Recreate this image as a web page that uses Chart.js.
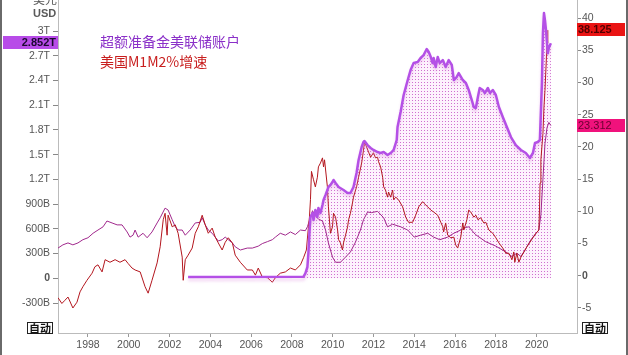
<!DOCTYPE html>
<html><head><meta charset="utf-8">
<script src="https://cdn.jsdelivr.net/npm/chart.js@4/dist/chart.umd.min.js"></script>
<style>html,body{margin:0;padding:0;background:#fff;overflow:hidden}#wrap{position:relative;width:628px;height:355px}</style>
</head><body><div id="wrap"><canvas id="c" width="628" height="355"></canvas></div>
<script>
// ---------- DATA ----------
const seriesNames = ['超额准备金美联储账户', '美国M1M2%增速'];
const xTicks = [1998, 2000, 2002, 2004, 2006, 2008, 2010, 2012, 2014, 2016, 2018, 2020];
const leftTicks = [-300, 0, 300, 600, 900, 1200, 1500, 1800, 2100, 2400, 2700, 3000]; // billions USD
const rightTicks = [-5, 0, 5, 10, 15, 20, 25, 30, 35, 40]; // %

// Excess reserves held at the Fed (billions USD)
const reservesYears = [2002.91,2008.57,2008.66,2008.76,2008.81,2008.86,2008.91,2009.01,2009.06,2009.15,2009.25,2009.30,2009.40,2009.50,2009.55,2009.65,2009.74,2009.79,2009.89,2009.99,2010.04,2010.14,2010.29,2010.53,2010.73,2010.87,2011.02,2011.17,2011.27,2011.42,2011.51,2011.56,2011.71,2011.86,2012.00,2012.20,2012.35,2012.50,2012.69,2012.84,2012.99,2013.14,2013.18,2013.33,2013.48,2013.68,2013.82,2013.97,2014.17,2014.31,2014.46,2014.61,2014.71,2014.81,2014.90,2014.95,2015.05,2015.15,2015.25,2015.40,2015.54,2015.69,2015.84,2015.94,2016.08,2016.18,2016.38,2016.53,2016.67,2016.82,2016.92,2017.02,2017.12,2017.21,2017.36,2017.46,2017.61,2017.71,2017.85,2018.00,2018.15,2018.34,2018.54,2018.74,2018.98,2019.23,2019.47,2019.67,2019.82,2019.92,2020.06,2020.16,2020.26,2020.31,2020.36,2020.41,2020.46,2020.55,2020.60,2020.70];
const reservesValues = [15,20,60,137,307,550,744,792,707,829,744,853,792,889,950,1011,1071,1108,1132,1168,1193,1156,1108,1071,1035,1035,1108,1278,1436,1593,1654,1666,1617,1581,1557,1532,1520,1532,1496,1520,1557,1678,1836,2018,2224,2406,2527,2612,2624,2673,2709,2782,2746,2685,2612,2673,2564,2685,2612,2648,2564,2648,2588,2406,2442,2491,2406,2370,2285,2163,2078,2066,2200,2309,2285,2248,2309,2248,2285,2224,2078,1957,1836,1714,1617,1557,1520,1460,1520,1642,1654,1678,2370,2976,3219,3130,3008,2730,2797,2852];

// US M1 growth, % y/y
const m1Years = [1996.53,1996.72,1996.87,1997.02,1997.26,1997.46,1997.61,1997.75,1997.95,1998.20,1998.34,1998.49,1998.69,1998.84,1999.08,1999.33,1999.57,1999.82,1999.97,2000.16,2000.31,2000.56,2000.80,2000.95,2001.14,2001.39,2001.54,2001.69,2001.78,2001.88,2001.93,2002.13,2002.28,2002.42,2002.62,2002.67,2002.77,2002.91,2003.11,2003.26,2003.41,2003.60,2003.75,2003.90,2004.09,2004.24,2004.39,2004.58,2004.73,2004.88,2005.08,2005.22,2005.47,2005.81,2006.06,2006.21,2006.35,2006.55,2006.80,2007.04,2007.19,2007.43,2007.68,2007.93,2008.17,2008.42,2008.57,2008.71,2008.81,2008.86,2008.91,2008.96,2009.06,2009.15,2009.25,2009.30,2009.40,2009.50,2009.55,2009.60,2009.74,2009.79,2009.89,2009.99,2010.04,2010.14,2010.24,2010.29,2010.38,2010.48,2010.53,2010.63,2010.73,2010.78,2010.87,2010.97,2011.02,2011.17,2011.27,2011.42,2011.51,2011.56,2011.66,2011.76,2011.86,2012.00,2012.10,2012.20,2012.25,2012.35,2012.45,2012.50,2012.59,2012.69,2012.74,2012.84,2012.94,2012.99,2013.09,2013.23,2013.43,2013.58,2013.72,2013.92,2014.07,2014.22,2014.41,2014.46,2014.66,2014.81,2014.95,2015.15,2015.30,2015.40,2015.44,2015.54,2015.64,2015.79,2015.94,2016.03,2016.13,2016.28,2016.38,2016.43,2016.58,2016.67,2016.77,2016.92,2017.02,2017.12,2017.26,2017.41,2017.51,2017.66,2017.85,2018.00,2018.15,2018.34,2018.49,2018.64,2018.79,2018.88,2018.93,2019.03,2019.13,2019.23,2019.38,2019.52,2019.67,2019.82,2019.97,2020.11,2020.14,2020.17,2020.21,2020.31,2020.36,2020.41,2020.46,2020.51,2020.55];
const m1Values = [-3.4,-4.3,-3.8,-3.3,-5.0,-4.1,-2.5,-1.7,-0.7,0.4,1.4,1.7,0.6,2.5,2.1,2.5,2.1,2.5,1.9,1.2,0.9,0.6,-1.7,-2.7,-0.7,2.0,4.5,8.7,9.7,6.3,9.4,7.6,7.9,6.6,2.9,-0.7,2.5,3.2,4.3,6.6,7.6,9.4,7.9,6.6,7.4,6.0,5.1,4.0,5.2,5.9,5.1,3.2,2.1,0.9,0.9,0.1,1.2,-0.2,-0.3,-1.0,-0.3,0.4,0.6,1.2,0.9,1.7,2.8,4.0,7.6,9.1,11.8,16.2,14.9,13.8,15.3,16.9,17.5,18.3,16.9,18.0,13.8,10.7,6.6,7.6,9.7,9.1,7.1,5.6,5.1,4.0,5.1,6.3,7.6,8.7,9.7,11.3,12.2,13.8,15.3,17.5,19.5,20.8,20.0,19.2,18.4,19.1,18.3,18.4,17.7,16.9,15.3,13.8,13.3,12.2,13.0,12.2,13.3,11.8,12.2,11.8,10.7,9.1,8.3,8.3,9.4,10.7,11.5,11.3,10.7,10.2,9.9,9.4,8.3,7.6,6.8,8.2,6.3,5.9,6.0,4.8,4.3,6.0,8.2,7.1,8.7,10.2,9.9,9.1,9.4,8.7,9.0,8.2,8.3,7.1,6.6,5.9,5.1,4.3,3.5,3.5,2.5,3.7,2.1,3.5,2.1,2.9,3.7,4.5,5.2,5.9,6.6,7.1,10.2,14.4,18.0,22.1,26.2,28.8,32.4,36.1,38.125];

// US M2 growth, % y/y
const m2Years = [1996.53,1996.77,1997.02,1997.26,1997.51,1997.75,1998.00,1998.25,1998.49,1998.74,1998.93,1999.18,1999.43,1999.67,1999.92,2000.06,2000.21,2000.31,2000.46,2000.70,2000.90,2001.14,2001.39,2001.54,2001.78,2001.93,2002.13,2002.28,2002.42,2002.62,2002.77,2003.01,2003.26,2003.50,2003.60,2003.75,2003.90,2004.09,2004.24,2004.39,2004.58,2004.73,2004.88,2005.08,2005.22,2005.47,2005.81,2006.06,2006.35,2006.55,2006.80,2007.04,2007.19,2007.43,2007.68,2007.93,2008.17,2008.42,2008.66,2008.76,2008.91,2009.01,2009.15,2009.30,2009.50,2009.65,2009.79,2009.99,2010.14,2010.38,2010.63,2010.87,2011.10,2011.36,2011.51,2011.71,2011.90,2012.20,2012.50,2012.69,2012.94,2013.33,2013.68,2014.00,2014.31,2014.66,2014.95,2015.25,2015.64,2015.94,2016.28,2016.53,2016.67,2017.00,2017.50,2018.00,2018.49,2018.79,2019.03,2019.23,2019.47,2019.72,2019.97,2020.11,2020.21,2020.31,2020.41,2020.51,2020.60,2020.70];
const m2Values = [4.3,4.8,5.1,4.8,5.1,5.6,5.9,6.6,7.1,7.6,8.5,8.2,7.9,7.9,6.8,6.0,6.3,7.1,6.0,6.6,5.9,6.8,8.2,9.0,10.5,10.2,8.7,7.6,7.1,7.1,6.3,7.1,8.2,8.3,9.0,7.9,7.1,6.6,6.0,5.4,5.6,6.0,5.6,5.1,4.5,4.0,4.3,4.3,4.6,5.0,5.3,5.6,6.0,6.6,6.3,6.8,6.4,7.1,7.0,7.6,9.1,10.1,9.3,8.8,8.5,7.1,5.1,2.9,2.1,2.1,2.9,3.7,5.1,7.1,8.7,9.9,9.8,10.0,9.0,7.6,8.0,7.6,7.1,6.0,6.3,6.6,6.0,5.6,6.0,6.6,7.1,7.5,7.6,6.4,5.3,4.6,3.7,3.0,3.5,3.0,4.2,5.6,6.6,7.1,9.5,15.0,20.5,23.0,23.8,23.312];

// ---------- CHART ----------
const canvas = document.getElementById('c');
const ctx0 = canvas.getContext('2d');
const tile = document.createElement('canvas'); tile.width = 3; tile.height = 3;
const tg = tile.getContext('2d');
tg.fillStyle = 'rgba(253,242,253,1)'; tg.fillRect(0,0,3,3);
tg.fillStyle = '#cf6fcf'; tg.fillRect(1,1,1,1);
const dotPattern = ctx0.createPattern(tile, 'repeat');

const zip = (xs, ys) => xs.map((x, i) => ({x, y: ys[i]}));

const FONT = '"Liberation Sans", Arial, sans-serif';
const tickFont = c => ({family: FONT, size: 10.5, weight: (c.tick && c.tick.value === 0) ? 'bold' : 'normal'});

const shadowPlugin = {
  id: 'shadowLine',
  beforeDatasetDraw(chart, args) {
    if (args.index === 0) { const c = chart.ctx; c.save(); c.shadowColor = 'rgba(226,150,226,0.4)'; c.shadowOffsetY = 3; c.shadowBlur = 3; }
  },
  afterDatasetDraw(chart, args) { if (args.index === 0) chart.ctx.restore(); }
};

const overlayPlugin = {
  id: 'overlay',
  afterDraw(chart) {
    const c = chart.ctx, s = chart.scales;
    c.save();
    // outer frame lines
    c.fillStyle = '#6a6a6a'; c.fillRect(0, 0, 2, 355); c.fillRect(626, 0, 2, 355);
    // unit labels
    c.fillStyle = '#5a5a5a'; c.textBaseline = 'middle'; c.textAlign = 'left';
    c.font = '12px "Noto Sans CJK SC"'; c.fillText('美元', 33, -1);
    c.font = 'bold 11px ' + FONT; c.fillText('USD', 33, 13.5);
    // legend texts
    c.font = '14px "Noto Sans CJK SC"';
    c.fillStyle = '#8a2fc8'; c.fillText(seriesNames[0], 100, 42);
    c.fillStyle = '#c81e1e'; c.fillText(seriesNames[1], 100, 62);
    // last value boxes
    const lastR = reservesValues[reservesValues.length - 1];
    const lastM1 = m1Values[m1Values.length - 1];
    const lastM2 = m2Values[m2Values.length - 1];
    const yl = s.yL.getPixelForValue(lastR);
    c.fillStyle = '#b84ce8'; c.fillRect(3, Math.round(yl) - 7, 55, 13);
    c.fillStyle = '#1c0830'; c.font = 'bold 11px ' + FONT; c.textAlign = 'right';
    c.fillText((lastR / 1000).toFixed(3) + 'T', 56, Math.round(yl) - 0.5);
    const y1 = s.yR.getPixelForValue(lastM1);
    c.fillStyle = '#ea1414'; c.fillRect(577, Math.round(y1) - 7, 48, 13);
    c.fillStyle = '#520000'; c.textAlign = 'left'; c.font = 'bold 11px ' + FONT;
    c.fillText(lastM1.toFixed(3), 578, Math.round(y1) - 0.5);
    const y2 = s.yR.getPixelForValue(lastM2);
    c.fillStyle = '#f0127c'; c.fillRect(577, Math.round(y2) - 7, 48, 13);
    c.fillStyle = '#6a0030'; c.font = '11px ' + FONT;
    c.fillText(lastM2.toFixed(3), 578, Math.round(y2) - 0.5);
    // 自动 buttons
    c.font = 'bold 11px "Noto Sans CJK SC"'; c.textAlign = 'center';
    [[27, 322], [582, 322]].forEach(([bx, by]) => {
      c.fillStyle = '#fff'; c.fillRect(bx, by, 26, 12);
      c.strokeStyle = '#222'; c.lineWidth = 1; c.strokeRect(bx + 0.5, by + 0.5, 25, 11);
      c.fillStyle = '#111'; c.fillText('自动', bx + 13, by + 6.5);
    });
    c.restore();
  }
};

new Chart(canvas, {
  type: 'line',
  data: {
    datasets: [
      {label: seriesNames[0], data: zip(reservesYears, reservesValues), yAxisID: 'yL', borderColor: '#b450e6', borderWidth: 2.5, backgroundColor: dotPattern, fill: 'origin', pointRadius: 0, tension: 0, borderJoinStyle: 'round', order: 0},
      {label: 'M1', data: zip(m1Years, m1Values), yAxisID: 'yR', borderColor: '#b3161e', borderWidth: 1, pointRadius: 0, tension: 0, fill: false, order: 1},
      {label: 'M2', data: zip(m2Years, m2Values), yAxisID: 'yR', borderColor: '#a0288c', borderWidth: 1, pointRadius: 0, tension: 0, fill: false, order: 2}
    ]
  },
  options: {
    responsive: false, animation: false, devicePixelRatio: 1,
    layout: {padding: 0},
    plugins: {legend: {display: false}, tooltip: {enabled: false}, filler: {drawTime: 'beforeDatasetsDraw'}},
    scales: {
      x: {
        type: 'linear', min: 1996.53, max: 2021.98,
        afterBuildTicks: a => { a.ticks = xTicks.map(v => ({value: v})); },
        afterFit: a => { a.height = 22; a.paddingLeft = 0; a.paddingRight = 0; },
        ticks: {autoSkip: false, maxRotation: 0, padding: 2, color: '#555', font: {family: FONT, size: 10.5}, callback: v => String(v)},
        grid: {drawOnChartArea: false, tickLength: 4, color: '#999'},
        border: {color: '#bbb'}
      },
      yL: {
        type: 'linear', position: 'left', min: -664, max: 3377,
        afterBuildTicks: a => { a.ticks = leftTicks.map(v => ({value: v})); },
        afterFit: a => { a.width = 58; a.paddingTop = 0; a.paddingBottom = 0; },
        ticks: {autoSkip: false, padding: 3, color: '#555', font: tickFont,
          callback: v => v === 0 ? '0' : (Math.abs(v) >= 1000 ? (v / 1000) + 'T' : v + 'B')},
        grid: {drawOnChartArea: false, tickLength: 5, color: '#888'},
        border: {color: '#bbb'}
      },
      yR: {
        type: 'linear', position: 'right', min: -8.88, max: 42.8,
        afterBuildTicks: a => { a.ticks = rightTicks.map(v => ({value: v})); },
        afterFit: a => { a.width = 51; a.paddingTop = 0; a.paddingBottom = 0; },
        ticks: {autoSkip: false, padding: 1, color: '#555', font: tickFont, callback: v => String(v)},
        grid: {drawOnChartArea: false, tickLength: 4, color: '#888'},
        border: {color: '#bbb'}
      }
    }
  },
  plugins: [shadowPlugin, overlayPlugin]
});
</script>
</body></html>
